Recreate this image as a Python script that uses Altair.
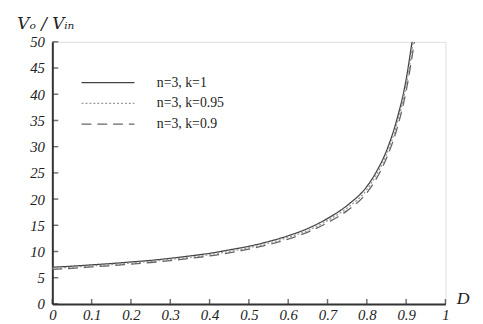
import altair as alt
import pandas as pd

# Duty cycle sample points
D_pts = [0, 0.05, 0.1, 0.15, 0.2, 0.25, 0.3, 0.35, 0.4, 0.45, 0.5,
         0.55, 0.6, 0.65, 0.7, 0.75, 0.8, 0.825, 0.85, 0.875, 0.9]

series_names = ["n=3, k=1", "n=3, k=0.95", "n=3, k=0.9"]

gain_k1 = [7.0, 7.2, 7.45, 7.7, 8.0, 8.3, 8.7, 9.15, 9.65, 10.3, 11.0,
           11.9, 13.0, 14.4, 16.3, 18.8, 22.4, 25.3, 29.2, 34.8, 42.8]
gain_k095 = [6.8, 7.0, 7.25, 7.5, 7.8, 8.1, 8.5, 8.9, 9.4, 10.0, 10.7,
             11.6, 12.7, 14.0, 15.9, 18.3, 21.8, 24.7, 28.5, 33.9, 41.7]
gain_k09 = [6.6, 6.8, 7.05, 7.3, 7.6, 7.9, 8.25, 8.7, 9.15, 9.75, 10.45,
            11.3, 12.35, 13.7, 15.5, 17.8, 21.2, 24.0, 27.8, 33.0, 40.6]

# last visible point of each curve (where it leaves the top of the plot)
end_D = [0.915, 0.918, 0.921]
end_gain = [50.0, 50.0, 50.0]

x_ticks = [0, 0.1, 0.2, 0.3, 0.4, 0.5, 0.6, 0.7, 0.8, 0.9, 1]
y_ticks = [0, 5, 10, 15, 20, 25, 30, 35, 40, 45, 50]

rows = []
for name, vals, ed, eg in zip(series_names, [gain_k1, gain_k095, gain_k09], end_D, end_gain):
    for d, g in zip(D_pts, vals):
        rows.append({"D": d, "G": g, "series": name})
    rows.append({"D": ed, "G": eg, "series": name})
df = pd.DataFrame(rows)
df_xt = pd.DataFrame({"D": x_ticks})
df_yt = pd.DataFrame({"G": y_ticks})

W, H = 399, 266
SERIF = "Liberation Serif"

xscale = alt.Scale(domain=[0, 1], nice=False, zero=False)
yscale = alt.Scale(domain=[0, 50], nice=False)

dash_scale = alt.Scale(domain=series_names, range=[[1, 0], [2, 2], [10, 6]])
color_scale = alt.Scale(domain=series_names, range=["#444444", "#999999", "#666666"])
width_scale = alt.Scale(domain=series_names, range=[1.3, 1.3, 1.8])

x_axis = alt.Axis(orient="bottom", values=x_ticks, format="~g", ticks=False,
                  grid=False, domainColor="#333", domainWidth=2, labelOverlap=False,
                  labelFont=SERIF, labelFontStyle="italic", labelFontSize=15,
                  labelColor="#222", labelPadding=4, labelFlush=False,
                  title="D", titleFont=SERIF, titleFontStyle="italic",
                  titleFontWeight="normal", titleFontSize=18, titleColor="#222",
                  titleX=410, titleY=-5, titleAlign="left", titleBaseline="middle")
y_axis = alt.Axis(orient="left", values=y_ticks, ticks=False, grid=False,
                  domainColor="#333", domainWidth=2, labelOverlap=False,
                  labelFont=SERIF, labelFontStyle="italic", labelFontSize=15,
                  labelColor="#222", labelPadding=8, labelFlush=False,
                  title="Vₒ / Vᵢₙ", titleFont="DejaVu Serif", titleFontStyle="italic",
                  titleFontWeight="normal", titleFontSize=17, titleColor="#222",
                  titleAngle=0, titleX=-36, titleY=-14, titleAlign="left",
                  titleBaseline="alphabetic")

lines = alt.Chart(df).mark_line(clip=True, interpolate="monotone").encode(
    x=alt.X("D:Q", scale=xscale, axis=x_axis),
    y=alt.Y("G:Q", scale=yscale, axis=y_axis),
    color=alt.Color("series:N", scale=color_scale, sort=series_names,
                    legend=alt.Legend(title=None, orient="none", legendX=49, legendY=34,
                                      symbolType="M-4,0H4", symbolSize=180,
                                      symbolStrokeWidth=1.5, labelFont=SERIF,
                                      labelFontSize=14, labelColor="#222",
                                      labelOffset=42, rowPadding=6)),
    strokeDash=alt.StrokeDash("series:N", scale=dash_scale, sort=series_names, legend=None),
    strokeWidth=alt.StrokeWidth("series:N", scale=width_scale, legend=None),
    detail="series:N",
)

# inward-pointing axis ticks
xtick_marks = alt.Chart(df_xt).mark_tick(orient="vertical", size=5, thickness=1.5,
                                          color="#333", yOffset=-2.5).encode(
    x=alt.X("D:Q", scale=xscale, axis=x_axis),
    y=alt.YDatum(0, scale=yscale, axis=y_axis),
)
ytick_marks = alt.Chart(df_yt).mark_tick(orient="horizontal", size=6, thickness=1.5,
                                          color="#333", xOffset=3).encode(
    y=alt.Y("G:Q", scale=yscale, axis=y_axis),
    x=alt.XDatum(0, scale=xscale, axis=x_axis),
)

chart = alt.layer(lines, xtick_marks, ytick_marks).properties(
    width=W, height=H,
    autosize=alt.AutoSizeParams(type="none"),
    padding={"left": 45, "top": 32, "right": 30, "bottom": 16},
).configure_view(stroke=None).configure(background="white")

chart.save("out.html", embed_options={"renderer": "svg", "actions": False})
